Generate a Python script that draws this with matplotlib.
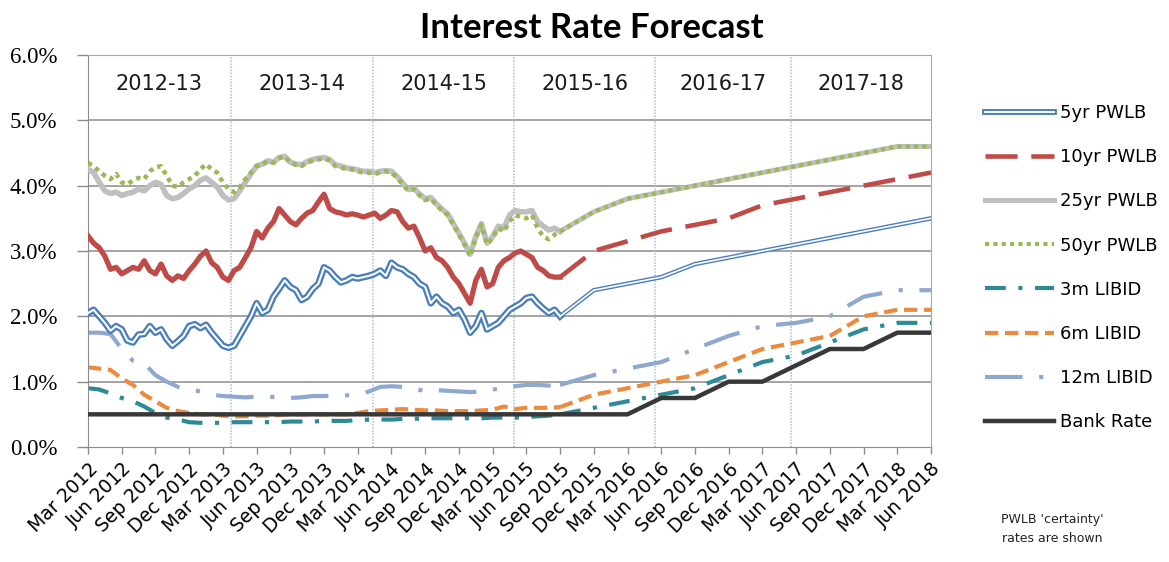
import numpy as np
import matplotlib
matplotlib.use('Agg')
import matplotlib.pyplot as plt
from matplotlib.lines import Line2D

# x axis: quarters counted from Mar 2012
quarter_labels = ['Mar 2012', 'Jun 2012', 'Sep 2012', 'Dec 2012', 'Mar 2013', 'Jun 2013',
                  'Sep 2013', 'Dec 2013', 'Mar 2014', 'Jun 2014', 'Sep 2014', 'Dec 2014',
                  'Mar 2015', 'Jun 2015', 'Sep 2015', 'Dec 2015', 'Mar 2016', 'Jun 2016',
                  'Sep 2016', 'Dec 2016', 'Mar 2017', 'Jun 2017', 'Sep 2017', 'Dec 2017',
                  'Mar 2018', 'Jun 2018']
fy_labels = ['2012-13', '2013-14', '2014-15', '2015-16', '2016-17', '2017-18']
fy_bounds = [0, 4.24, 8.46, 12.64, 16.82, 20.86, 25]

# history: PWLB read every half month, LIBID every month (in quarters since Mar 2012)
x_hist_pwlb = np.arange(85) / 6
x_hist_libid = np.arange(43) / 3
x_fc = np.arange(14, 26)
x_bank = np.arange(26)

pwlb5_hist = [2.05, 2.10, 2.00, 1.90, 1.78, 1.85,
              1.80, 1.63, 1.60, 1.72, 1.73, 1.85,
              1.75, 1.80, 1.65, 1.55, 1.62, 1.70,
              1.85, 1.88, 1.82, 1.87, 1.75, 1.65,
              1.55, 1.52, 1.55, 1.70, 1.85, 2.00,
              2.20, 2.05, 2.10, 2.30, 2.42, 2.55,
              2.45, 2.40, 2.25, 2.30, 2.42, 2.50,
              2.75, 2.70, 2.60, 2.52, 2.55, 2.60,
              2.58, 2.60, 2.62, 2.65, 2.70, 2.62,
              2.82, 2.75, 2.72, 2.65, 2.60, 2.50,
              2.45, 2.20, 2.30, 2.20, 2.15, 2.05,
              2.10, 1.95, 1.75, 1.85, 2.05, 1.80,
              1.85, 1.90, 2.00, 2.10, 2.15, 2.20,
              2.28, 2.30, 2.20, 2.12, 2.05, 2.10,
              2.00]
pwlb10_hist = [3.23, 3.12, 3.05, 2.92, 2.72, 2.75,
               2.65, 2.70, 2.75, 2.72, 2.85, 2.70,
               2.65, 2.80, 2.62, 2.55, 2.62, 2.58,
               2.70, 2.80, 2.92, 3.00, 2.82, 2.75,
               2.60, 2.55, 2.70, 2.75, 2.90, 3.05,
               3.30, 3.20, 3.35, 3.45, 3.65, 3.55,
               3.45, 3.40, 3.50, 3.58, 3.62, 3.75,
               3.87, 3.65, 3.60, 3.58, 3.55, 3.57,
               3.55, 3.52, 3.55, 3.58, 3.50, 3.55,
               3.62, 3.60, 3.45, 3.35, 3.38, 3.20,
               3.00, 3.05, 2.90, 2.85, 2.75, 2.60,
               2.50, 2.35, 2.20, 2.55, 2.72, 2.45,
               2.50, 2.75, 2.85, 2.90, 2.97, 3.00,
               2.95, 2.90, 2.75, 2.70, 2.62, 2.60,
               2.60]
pwlb25_hist = [4.25, 4.20, 4.05, 3.92, 3.88, 3.90,
               3.85, 3.88, 3.90, 3.95, 3.92, 4.00,
               4.05, 4.02, 3.85, 3.80, 3.82, 3.88,
               3.95, 4.00, 4.08, 4.12, 4.05, 3.98,
               3.85, 3.78, 3.80, 3.92, 4.05, 4.18,
               4.30, 4.33, 4.38, 4.36, 4.43, 4.45,
               4.36, 4.33, 4.32, 4.37, 4.40, 4.42,
               4.43, 4.40, 4.32, 4.30, 4.27, 4.26,
               4.24, 4.22, 4.22, 4.20, 4.22, 4.23,
               4.22, 4.14, 4.04, 3.94, 3.96, 3.87,
               3.80, 3.82, 3.72, 3.64, 3.57, 3.42,
               3.27, 3.12, 2.95, 3.22, 3.42, 3.12,
               3.22, 3.38, 3.35, 3.55, 3.62, 3.60,
               3.60, 3.62, 3.45, 3.38, 3.32, 3.35,
               3.30]
pwlb50_hist = [4.35, 4.30, 4.22, 4.15, 4.10, 4.18,
               4.05, 4.02, 4.08, 4.12, 4.10, 4.22,
               4.28, 4.30, 4.15, 4.00, 3.98, 4.05,
               4.10, 4.15, 4.25, 4.33, 4.25, 4.20,
               4.05, 3.95, 3.90, 3.98, 4.10, 4.20,
               4.30, 4.32, 4.38, 4.35, 4.42, 4.45,
               4.35, 4.32, 4.30, 4.36, 4.38, 4.40,
               4.42, 4.38, 4.30, 4.28, 4.25, 4.25,
               4.22, 4.20, 4.20, 4.18, 4.20, 4.22,
               4.20, 4.12, 4.02, 3.92, 3.95, 3.85,
               3.78, 3.80, 3.70, 3.62, 3.55, 3.40,
               3.25, 3.10, 2.92, 3.20, 3.40, 3.10,
               3.20, 3.35, 3.30, 3.45, 3.55, 3.52,
               3.50, 3.55, 3.35, 3.22, 3.18, 3.25,
               3.30]

libid3_hist = [0.90, 0.88, 0.82, 0.75, 0.70, 0.62, 0.52, 0.45, 0.42, 0.38, 0.37, 0.37,
               0.37, 0.38, 0.38, 0.38, 0.38, 0.38, 0.39, 0.39, 0.39, 0.40, 0.40, 0.40,
               0.41, 0.42, 0.42, 0.42, 0.43, 0.43, 0.44, 0.44, 0.44, 0.44, 0.44, 0.44,
               0.45, 0.45, 0.45, 0.46, 0.47, 0.48, 0.50]
libid6_hist = [1.22, 1.20, 1.18, 1.05, 0.95, 0.80, 0.70, 0.60, 0.55, 0.52, 0.50, 0.50,
               0.48, 0.47, 0.47, 0.48, 0.48, 0.49, 0.50, 0.50, 0.50, 0.50, 0.50, 0.50,
               0.52, 0.55, 0.56, 0.57, 0.58, 0.57, 0.56, 0.56, 0.55, 0.55, 0.55, 0.56,
               0.57, 0.62, 0.58, 0.60, 0.60, 0.60, 0.61]
libid12_hist = [1.75, 1.75, 1.73, 1.50, 1.32, 1.28, 1.10, 1.00, 0.92, 0.88, 0.85, 0.80,
                0.78, 0.77, 0.76, 0.77, 0.77, 0.76, 0.75, 0.76, 0.78, 0.78, 0.79, 0.79,
                0.80, 0.85, 0.92, 0.93, 0.92, 0.90, 0.85, 0.87, 0.86, 0.85, 0.84, 0.85,
                0.88, 0.90, 0.93, 0.95, 0.95, 0.94, 0.95]

# forecasts, Sep 2015 .. Jun 2018
pwlb5_fc = [2.00, 2.40, 2.50, 2.60, 2.80, 2.90, 3.00, 3.10, 3.20, 3.30, 3.40, 3.50]
pwlb10_fc = [2.60, 3.00, 3.15, 3.30, 3.40, 3.50, 3.70, 3.80, 3.90, 4.00, 4.10, 4.20]
pwlb25_fc = [3.30, 3.60, 3.80, 3.90, 4.00, 4.10, 4.20, 4.30, 4.40, 4.50, 4.60, 4.60]
pwlb50_fc = [3.30, 3.60, 3.80, 3.90, 4.00, 4.10, 4.20, 4.30, 4.40, 4.50, 4.60, 4.60]
libid3_fc = [0.50, 0.60, 0.70, 0.80, 0.90, 1.10, 1.30, 1.40, 1.60, 1.80, 1.90, 1.90]
libid6_fc = [0.61, 0.80, 0.90, 1.00, 1.10, 1.30, 1.50, 1.60, 1.70, 2.00, 2.10, 2.10]
libid12_fc = [0.95, 1.10, 1.20, 1.30, 1.50, 1.70, 1.85, 1.90, 2.00, 2.30, 2.40, 2.40]
bank_rate = [0.50, 0.50, 0.50, 0.50, 0.50, 0.50, 0.50, 0.50, 0.50, 0.50, 0.50, 0.50, 0.50,
             0.50, 0.50, 0.50, 0.50, 0.75, 0.75, 1.00, 1.00, 1.25, 1.50, 1.50, 1.75, 1.75]

c_blue = '#4A7EBB'
c_red = '#BE4B48'
c_gray = '#BFBFBF'
c_green = '#98B954'
c_teal = '#2F8A98'
c_orange = '#EC8A3E'
c_lblue = '#8FA8CF'
c_bank = '#383838'

plt.rcParams['font.family'] = 'DejaVu Sans'

fig = plt.figure(figsize=(11.69, 5.62), dpi=100)
ax = fig.add_axes([88 / 1169, 1 - 447 / 562, (931 - 88) / 1169, (447 - 55) / 562])

ax.set_xlim(0, 25)
ax.set_ylim(0, 6)

# grid and financial-year separators
for y in range(1, 7):
    ax.axhline(y, color='#8C8C8C', lw=1.1, zorder=1)
for b in fy_bounds[1:-1]:
    ax.axvline(b, color='#A9BCDB', lw=1.1, ls=(0, (1, 1)), zorder=1)
for i, lab in enumerate(fy_labels):
    ax.text((fy_bounds[i] + fy_bounds[i + 1]) / 2, 5.55, lab, ha='center', va='center',
            fontsize=15, color='#1A1A1A')

# LIBID lines
st3 = dict(color=c_teal, lw=3, dashes=(5, 3, 1, 3))
st6 = dict(color=c_orange, lw=3, dashes=(3.2, 1.6))
st12 = dict(color=c_lblue, lw=3, dashes=(9, 4, 1, 4))
ax.plot(x_hist_libid, libid12_hist, **st12, zorder=2)
ax.plot(x_fc, libid12_fc, **st12, zorder=2)
ax.plot(x_hist_libid, libid6_hist, **st6, zorder=2)
ax.plot(x_fc, libid6_fc, **st6, zorder=2)
ax.plot(x_hist_libid, libid3_hist, **st3, zorder=2)
ax.plot(x_fc, libid3_fc, **st3, zorder=2)
ax.plot(x_bank, bank_rate, color=c_bank, lw=3.2, zorder=3)

# PWLB lines
ax.plot(x_hist_pwlb, pwlb25_hist, color=c_gray, lw=4, zorder=3)
ax.plot(x_fc, pwlb25_fc, color=c_gray, lw=3.6, zorder=3)
ax.plot(x_hist_pwlb, pwlb50_hist, color=c_green, lw=3.2, dashes=(1, 1), zorder=4)
ax.plot(x_fc, pwlb50_fc, color=c_green, lw=3, dashes=(1, 1), zorder=4)
ax.plot(x_hist_pwlb, pwlb10_hist, color=c_red, lw=3.8, zorder=4)
ax.plot(x_fc, pwlb10_fc, color=c_red, lw=3.3, dashes=(7, 3), zorder=4)
ax.plot(x_hist_pwlb, pwlb5_hist, color=c_blue, lw=4.8, zorder=4)
ax.plot(x_hist_pwlb, pwlb5_hist, color='white', lw=1.5, zorder=5)
ax.plot(x_fc, pwlb5_fc, color=c_blue, lw=3.2, zorder=4)
ax.plot(x_fc, pwlb5_fc, color='white', lw=1.2, zorder=5)

# axes styling
ax.set_yticks(range(7))
ax.set_yticklabels([f'{v:.1f}%' for v in range(7)], family='Liberation Serif', fontsize=16.5)
ax.set_xticks(x_bank)
ax.set_xticklabels(quarter_labels, fontsize=13.5, rotation=45, ha='right', rotation_mode='anchor')
ax.tick_params(axis='y', length=8, width=1, color='#8C8C8C', pad=14)
ax.tick_params(axis='x', length=5, width=1, color='#8C8C8C', pad=4)
for side in ['left', 'bottom']:
    ax.spines[side].set_color('#8C8C8C')
for side in ['top', 'right']:
    ax.spines[side].set_color('#A0A8B8')
    ax.spines[side].set_linestyle((0, (1, 1)))

# legend
handles = [
    (Line2D([], [], color=c_blue, lw=4.2), Line2D([], [], color='white', lw=1.4)),
    Line2D([], [], color=c_red, lw=3.3, dashes=(7, 3)),
    Line2D([], [], color=c_gray, lw=3.6),
    Line2D([], [], color=c_green, lw=3, dashes=(1, 1)),
    Line2D([], [], **st3),
    Line2D([], [], **st6),
    Line2D([], [], **st12),
    Line2D([], [], color=c_bank, lw=3.2),
]
labels = ['5yr PWLB', '10yr PWLB', '25yr PWLB', '50yr PWLB', '3m LIBID', '6m LIBID',
          '12m LIBID', 'Bank Rate']
fig.legend(handles, labels, loc='upper left', bbox_to_anchor=(985 / 1169, 1 - 104 / 562),
           frameon=False, fontsize=13, handlelength=3.8, handletextpad=0.35,
           labelspacing=1.45, borderpad=0, borderaxespad=0)

fig.text(592 / 1169, 1 - 28 / 562, 'Interest Rate Forecast', ha='center', va='center',
         fontsize=25, fontweight='bold', family='Lato')
fig.text(1052 / 1169, 1 - 529 / 562, "PWLB 'certainty'\nrates are shown", ha='center',
         va='center', fontsize=9, linespacing=1.7, color='#222222')

fig.savefig('out.png', dpi=100)
